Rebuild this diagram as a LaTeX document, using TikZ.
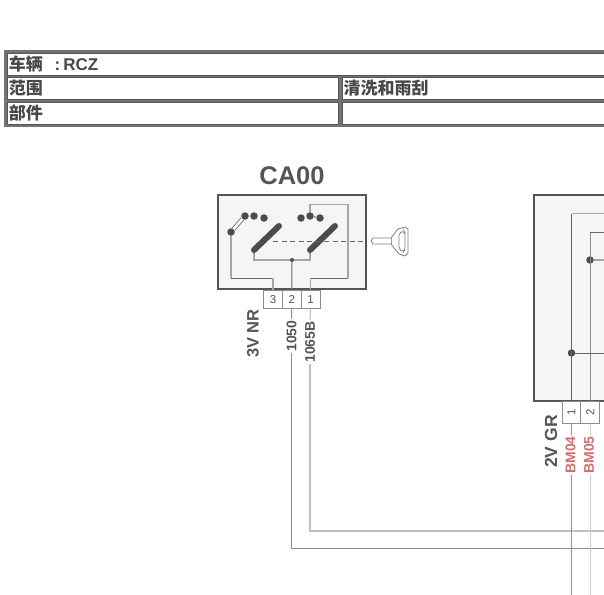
\documentclass[tikz,border=0pt]{standalone}
\usepackage{fontspec}
\setmainfont{Liberation Sans}
\newfontfamily\cjk{Noto Sans CJK SC}
\usetikzlibrary{positioning}
\definecolor{ink}{HTML}{555555}
\definecolor{redwire}{HTML}{C86464}
\definecolor{redlabel}{HTML}{D96A6A}
\tikzset{
  tablecell/.style={draw=ink,line width=1pt,fill=white,anchor=north west,inner xsep=1.5pt,inner ysep=0pt,align=left,minimum height=21.5pt,font=\fontsize{17}{17}\selectfont\bfseries,text=ink!85!black},
  unitbox/.style={draw=ink,line width=2.2pt,fill=black!4},
  pinbox/.style={draw=black!45,line width=.9pt,fill=white,minimum width=18.8pt,inner sep=0pt,font=\fontsize{11.5}{11.5}\selectfont,text=ink},
  wirelabel/.style={rotate=90,inner sep=1.5pt,font=\fontsize{14}{14}\selectfont\bfseries,text=ink},
  redlabeltext/.style={wirelabel,text=redlabel},
  harness/.style={rotate=90,inner sep=0pt,font=\fontsize{16.5}{16.5}\selectfont\bfseries,text=ink},
  contact/.style={circle,fill=black!70,inner sep=0pt,minimum size=7.5pt},
  blade/.style={line width=6pt,line cap=round,draw=black!70},
  thinwire/.style={line width=1pt,draw=black!60},
  palewire/.style={line width=1.2pt,draw=black!35},
  redthread/.style={line width=1.3pt,draw=redwire!85},
  palethread/.style={line width=1pt,draw=redwire!40}
}
\begin{document}
\begin{tikzpicture}[x=1pt,y=-1pt,node distance=18.8pt]
  \clip (0,0) rectangle (604,594);

% define the table at the top
  \fill[black!55] (4,50) rectangle (604,126.5);
  \node[tablecell,text width=617pt] (rowcar) at (7,53)
{{\cjk 车辆} \hspace{6pt}:\hspace{3pt}RCZ};
  \node[tablecell,text width=328pt] (rowscope) at (7,77)
{\cjk 范围};
  \node[tablecell,text width=277pt] (rowtitle) at (341.5,77)
{\cjk 清洗和雨刮};
  \node[tablecell,text width=328pt] (rowpart) at (7,102)
{\cjk 部件};
  \node[tablecell,text width=277pt] (rowempty) at (341.5,102)
{};

% define the switch unit
  \node[font=\fontsize{25.5}{25.5}\selectfont\bfseries,text=ink] (ca) at (292,176) {CA00};
  \node[unitbox,minimum width=148pt,minimum height=94pt] (cabox) at (292,241.7) {};
  \node[pinbox,minimum height=18.5pt,anchor=north] (pin3) at (273,289.5) {3};
  \node[pinbox,minimum height=18.5pt] (pin2) [right of=pin3] {2};
  \node[pinbox,minimum height=18.5pt] (pin1) [right of=pin2] {1};

% define the contacts
  \node[contact] (a1) at (231,232) {};
  \node[contact] (a2) at (245,216) {};
  \node[contact] (a3) at (254,216) {};
  \node[contact] (a4) at (264,218) {};
  \node[contact] (b1) at (301,218) {};
  \node[contact] (b2) at (310,216) {};
  \node[contact] (b3) at (320,218) {};
  \node[contact,minimum size=4pt] (joint) at (292,260) {};
  \coordinate (s1a) at (254,250);
  \coordinate (s1b) at (279,226);
  \coordinate (s2a) at (310,250);
  \coordinate (s2b) at (335,226);
  \coordinate (dashstart) at (273,241);
  \coordinate (dashend) at (366,241);
  \coordinate (c3) at (273,278);
  \coordinate (c1) at (348,278);
  \coordinate (c1top) at (348,204.5);
  \coordinate (b2top) at (310,204.5);

% define the links inside the switch unit
  \draw[palewire] (a1) -- (a1 |- c3);
  \draw[thinwire] (a1 |- c3) -- (c3);
  \draw[palewire] (c3) -- (c3 |- cabox.south);
  \draw[thinwire] (pin2.north) -- (joint);
  \draw[palewire] (s1a) |- (joint);
  \draw[palewire] (s2a) |- (joint);
  \draw[palewire] (pin1.north) -- (pin1.north |- c1);
  \draw[thinwire] (pin1.north |- c1) -- (c1);
  \draw[palewire] (c1) -- (c1top) -- (b2top) -- (b2);
  \draw[thinwire] (b2) -- (b3);
  \draw[thinwire,double=white,double distance=2.6pt,line width=.8pt] (a1) -- (a2);
  \draw[blade] (s1a) -- (s1b);
  \draw[blade] (s2a) -- (s2b);
  \draw[thinwire,dashed,dash pattern=on 5pt off 3.5pt] (dashstart) -- (dashend);

% define the key
  \coordinate (keytip) at (371,241);
  \draw[line width=.8pt,draw=black!50] (keytip) -- (373,238) -- (391,238) -- (394,234) -- (398,229) -- (405,227) -- (408,229) -- (408,253) -- (405,256) -- (399,254) -- (394,248) -- (391,244) -- (373,244) -- cycle;
  \draw[line width=.8pt,draw=black!50,rounded corners=2pt] (399,233) -- (404,231) -- (405,233) -- (405,250) -- (403,252) -- (399,249) -- cycle;
  \draw[line width=.6pt,draw=black!40] (391,238) -- (391,244);

% define the labels and wires below the switch unit
  \node[harness] (nr) at (253,333.5) {3V NR};
  \node[wirelabel] (w1050) at (291.5,336) {1050};
  \node[wirelabel] (w1065) at (310,342) {1065B};
  \coordinate (end1050) at (610,548.5);
  \coordinate (end1065) at (610,531);
  \draw[thinwire,draw=black!45] (pin2.south) -- (w1050.east);
  \draw[thinwire,draw=black!45] (w1050.west) |- (end1050);
  \draw[palewire,draw=black!25] (pin1.south) -- (w1065.east);
  \draw[palewire,draw=black!25] (w1065.west) |- (end1065);

% define the second unit
  \node[unitbox,minimum width=100pt,minimum height=206pt,anchor=north west] (bsibox) at (533,193.5) {};
  \node[pinbox,rotate=90,minimum width=22.5pt,minimum height=18.8pt,anchor=east] (pina) at (571.5,400.5) {1};
  \node[pinbox,rotate=90,minimum width=22.5pt,minimum height=18.8pt,anchor=east] (pinb) at (590.3,400.5) {2};
  \node[contact] (d2) at (590,260) {};
  \node[contact] (d1) at (571.5,353) {};
  \coordinate (top1) at (571.5,213.5);
  \coordinate (top2) at (590.3,232);
  \coordinate (out1) at (610,213.5);
  \coordinate (out2) at (610,232);
  \coordinate (outd1) at (610,353);
  \coordinate (outd2) at (610,260);
  \draw[thinwire] (bsibox.south -| pina.east) -- (top1);
  \draw[palewire] (top1) -- (out1);
  \draw[palewire,draw=black!45] (bsibox.south -| pinb.east) -- (top2);
  \draw[thinwire] (top2) -- (out2);
  \draw[thinwire] (d1) -- (outd1);
  \draw[palewire] (d2) -- (outd2);

% define the labels and wires below the second unit
  \node[harness,font=\fontsize{17.5}{17.5}\selectfont\bfseries] (gr) at (551,441.5) {2V GR};
  \node[redlabeltext] (bm4) at (570.5,455) {BM04};
  \node[redlabeltext] (bm5) at (589,455) {BM05};
  \coordinate (down1) at (571.5,600);
  \coordinate (down2) at (590.3,600);
  \draw[redthread] (pina.west) -- (pina.west |- bm4.east);
  \draw[redthread] (pina.west |- bm4.west) -- (down1);
  \draw[palethread] (pinb.west) -- (pinb.west |- bm5.east);
  \draw[palethread] (pinb.west |- bm5.west) -- (down2);
\end{tikzpicture}
\end{document}
